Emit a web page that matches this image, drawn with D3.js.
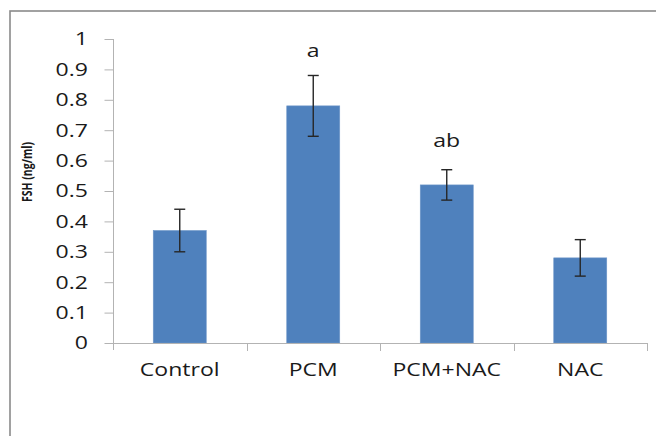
<!DOCTYPE html>
<html><head><meta charset="utf-8">
<script src="https://cdn.jsdelivr.net/npm/d3@7"></script>
<style>html,body{margin:0;padding:0;background:#fff;}svg{display:block;}</style>
</head><body>
<svg id="chart" width="656" height="436"></svg>
<script>
const categories = ["Control", "PCM", "PCM+NAC", "NAC"];
const values = [0.37, 0.78, 0.52, 0.28];
const errLow = [0.30, 0.68, 0.47, 0.22];
const errHigh = [0.44, 0.88, 0.57, 0.34];
const annotations = ["", "a", "ab", ""];
const annotationY = [null, 0.94, 0.645, null];
const yTicks = [0, 0.1, 0.2, 0.3, 0.4, 0.5, 0.6, 0.7, 0.8, 0.9, 1];
const yTickLabels = ["0", "0.1", "0.2", "0.3", "0.4", "0.5", "0.6", "0.7", "0.8", "0.9", "1"];
const yTitle = "FSH (ng/ml)";

const svg = d3.select("#chart");
const SX = 1.28;
const font = "'Open Sans', 'Liberation Sans', Arial, sans-serif";
const axisColor = "#b3b3b3";

// outer frame
svg.append("rect").attr("x", 10).attr("y", 11).attr("width", 700).attr("height", 500)
  .attr("fill", "none").attr("stroke", "#8a8a8a").attr("stroke-width", 1.6);

const x = d3.scaleBand().domain(categories).range([113, 647]).paddingInner(0.603).paddingOuter(0.3015);
const y = d3.scaleLinear().domain([0, 1]).range([343, 39]);

// bars
svg.selectAll("rect.bar").data(values).enter().append("rect")
  .attr("class", "bar")
  .attr("x", (d, i) => x(categories[i]))
  .attr("width", x.bandwidth())
  .attr("y", d => y(d))
  .attr("height", d => y(0) - y(d))
  .attr("fill", "#4f81bd")
  .attr("stroke", "#6d96c9").attr("stroke-width", 0.6);

// y axis
const yAxis = d3.axisLeft(y).tickValues(yTicks).tickSize(9).tickFormat("");
const gy = svg.append("g").attr("transform", "translate(113.5,0)").call(yAxis);
gy.select(".domain").attr("stroke", axisColor).attr("d", `M0,${y(1)}V350`);
gy.selectAll(".tick line").attr("stroke", axisColor);

svg.selectAll("text.ytl").data(yTicks).enter().append("text")
  .attr("class", "ytl")
  .attr("transform", d => `translate(88,${y(d)}) scale(${SX},1)`)
  .attr("dy", "0.36em")
  .attr("text-anchor", "end")
  .attr("font-family", font).attr("font-size", 18).attr("fill", "#1a1a1a")
  .text((d, i) => yTickLabels[i]);

// x axis
const boundaries = categories.map(c => x(c) - (x.step() - x.bandwidth()) / 2).concat([647]);
svg.append("line").attr("x1", 113).attr("x2", 647).attr("y1", 343.5).attr("y2", 343.5)
  .attr("stroke", axisColor).attr("stroke-width", 1);
svg.selectAll("line.xt").data(boundaries.slice(1)).enter().append("line")
  .attr("class", "xt")
  .attr("x1", d => Math.round(d) + 0.5).attr("x2", d => Math.round(d) + 0.5)
  .attr("y1", 343).attr("y2", 351)
  .attr("stroke", axisColor);

svg.selectAll("text.xtl").data(categories).enter().append("text")
  .attr("class", "xtl")
  .attr("transform", d => `translate(${x(d) + x.bandwidth() / 2},376) scale(${SX},1)`)
  .attr("text-anchor", "middle")
  .attr("font-family", font).attr("font-size", 18).attr("fill", "#1a1a1a")
  .text(d => d);

// error bars
const eg = svg.append("g").attr("stroke", "#262626").attr("stroke-width", 1.4);
categories.forEach((c, i) => {
  const cx = x(c) + x.bandwidth() / 2;
  eg.append("line").attr("x1", cx).attr("x2", cx).attr("y1", y(errLow[i])).attr("y2", y(errHigh[i]));
  eg.append("line").attr("x1", cx - 5.5).attr("x2", cx + 5.5).attr("y1", y(errLow[i])).attr("y2", y(errLow[i]));
  eg.append("line").attr("x1", cx - 5.5).attr("x2", cx + 5.5).attr("y1", y(errHigh[i])).attr("y2", y(errHigh[i]));
});

// annotations
const annIdx = d3.range(categories.length).filter(i => annotations[i] !== "");
svg.selectAll("text.ann").data(annIdx).enter().append("text")
  .attr("class", "ann")
  .attr("transform", i => `translate(${x(categories[i]) + x.bandwidth() / 2},${y(annotationY[i])}) scale(${SX},1)`)
  .attr("text-anchor", "middle")
  .attr("font-family", font).attr("font-size", 18).attr("fill", "#1a1a1a")
  .text(i => annotations[i]);

// y title
svg.append("text")
  .attr("transform", `translate(32,172) scale(${SX},1) rotate(-90)`)
  .attr("text-anchor", "middle")
  .attr("font-family", font).attr("font-size", 10.5).attr("font-weight", "bold").attr("fill", "#1a1a1a")
  .text(yTitle);
</script>
</body></html>
